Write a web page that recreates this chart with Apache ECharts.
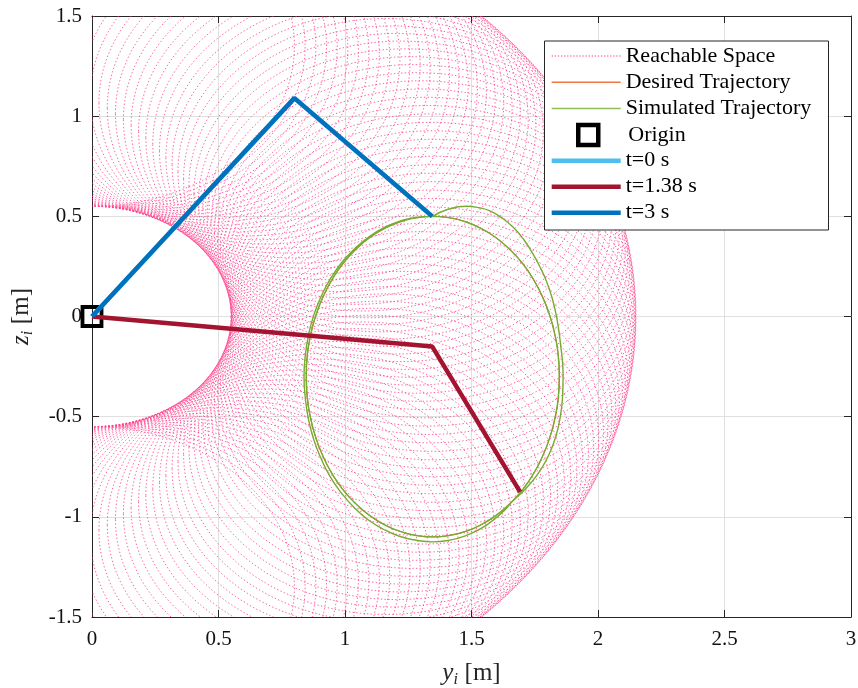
<!DOCTYPE html>
<html><head><meta charset="utf-8">
<script src="https://cdn.jsdelivr.net/npm/echarts@6/dist/echarts.min.js"></script>
<style>html,body{margin:0;padding:0;background:#fff}#c{width:858px;height:688px}</style>
</head><body><div id="c"></div>
<script>
// ---- data ----
const xTicks = [0, 0.5, 1, 1.5, 2, 2.5, 3];
const yTicks = [-1.5, -1, -0.5, 0, 0.5, 1, 1.5];
const linkLengths = [1.35, 0.8];
// shoulder angles (deg) at which the elbow circle of the reachable space is drawn
const reachAngles = [
  -90, -88.2, -86.4, -84.6, -82.8, -81, -79.2, -77.4, -75.6, -73.8,
  -72, -70.2, -68.4, -66.6, -64.8, -63, -61.2, -59.4, -57.6, -55.8,
  -54, -52.2, -50.4, -48.6, -46.8, -45, -43.2, -41.4, -39.6, -37.8,
  -36, -34.2, -32.4, -30.6, -28.8, -27, -25.2, -23.4, -21.6, -19.8,
  -18, -16.2, -14.4, -12.6, -10.8, -9, -7.2, -5.4, -3.6, -1.8,
  0, 1.8, 3.6, 5.4, 7.2, 9, 10.8, 12.6, 14.4, 16.2,
  18, 19.8, 21.6, 23.4, 25.2, 27, 28.8, 30.6, 32.4, 34.2,
  36, 37.8, 39.6, 41.4, 43.2, 45, 46.8, 48.6, 50.4, 52.2,
  54, 55.8, 57.6, 59.4, 61.2, 63, 64.8, 66.6, 68.4, 70.2,
  72, 73.8, 75.6, 77.4, 79.2, 81, 82.8, 84.6, 86.4, 88.2, 90
];
const desiredTraj = [
  [1.347, 0.500], [1.412, 0.493], [1.476, 0.473], [1.538, 0.439], [1.597, 0.393],
  [1.651, 0.335], [1.701, 0.266], [1.744, 0.187], [1.780, 0.100], [1.809, 0.006],
  [1.830, -0.093], [1.843, -0.196], [1.847, -0.300], [1.843, -0.404], [1.830, -0.507],
  [1.809, -0.606], [1.780, -0.700], [1.744, -0.787], [1.701, -0.866], [1.651, -0.935],
  [1.597, -0.993], [1.538, -1.039], [1.476, -1.073], [1.412, -1.093], [1.347, -1.100],
  [1.282, -1.093], [1.218, -1.073], [1.156, -1.039], [1.097, -0.993], [1.043, -0.935],
  [0.993, -0.866], [0.950, -0.787], [0.914, -0.700], [0.885, -0.606], [0.864, -0.507],
  [0.851, -0.404], [0.847, -0.300], [0.851, -0.196], [0.864, -0.093], [0.885, 0.006],
  [0.914, 0.100], [0.950, 0.187], [0.993, 0.266], [1.043, 0.335], [1.097, 0.393],
  [1.156, 0.439], [1.218, 0.473], [1.282, 0.493], [1.347, 0.500]
];
const simulatedTransient = [
  [1.347, 0.500], [1.402, 0.533], [1.481, 0.550], [1.530, 0.543], [1.573, 0.527],
  [1.620, 0.492], [1.665, 0.445], [1.707, 0.383], [1.744, 0.310], [1.773, 0.242],
  [1.797, 0.174], [1.817, 0.100], [1.832, 0.024], [1.844, -0.060], [1.853, -0.150],
  [1.860, -0.230], [1.862, -0.300], [1.860, -0.400], [1.851, -0.500], [1.833, -0.600],
  [1.806, -0.690], [1.773, -0.765], [1.735, -0.830], [1.698, -0.880], [1.660, -0.925],
  [1.630, -0.968], [1.597, -1.005], [1.538, -1.058], [1.476, -1.095], [1.412, -1.117],
  [1.347, -1.125], [1.282, -1.117], [1.215, -1.097], [1.152, -1.062], [1.090, -1.013],
  [1.035, -0.952], [0.985, -0.880], [0.940, -0.797], [0.905, -0.708], [0.876, -0.612],
  [0.855, -0.510], [0.843, -0.405], [0.838, -0.300], [0.843, -0.195], [0.856, -0.090],
  [0.877, 0.008], [0.907, 0.104], [0.943, 0.190], [0.988, 0.271], [1.038, 0.338],
  [1.094, 0.397], [1.152, 0.442], [1.217, 0.476], [1.280, 0.495]
];
const originPoint = [[0, 0]];
const armT0 = [[0, 0], [0.80, 1.09], [1.345, 0.50]];
const armT138 = [[0, 0], [1.345, -0.15], [1.692, -0.875]];
const armT3 = [[0, 0], [0.80, 1.09], [1.345, 0.50]];

// ---- styles ----
const FONT = 'Liberation Serif';
const INK = '#262626';
const PINK = '#FF3D8B';
const C_DES = '#D95319', C_SIM = '#77AC30', C_T0 = '#4DBEEE', C_T1 = '#A2142F', C_T3 = '#0072BD';

const chart = echarts.init(document.getElementById('c'), null, {renderer: 'canvas'});

function nameRich() {
  return {
    v: {fontFamily: FONT, fontStyle: 'italic', fontSize: 25, color: INK, lineHeight: 30, verticalAlign: 'middle'},
    s: {fontFamily: FONT, fontStyle: 'italic', fontSize: 16, color: INK, lineHeight: 30, verticalAlign: 'bottom'},
    m: {fontFamily: FONT, fontSize: 25, color: INK, lineHeight: 30, verticalAlign: 'middle'}
  };
}
const tickLabel = {color: '#111', fontFamily: FONT, fontSize: 21};
const step = xTicks[1] - xTicks[0];

let dots = '';
for (let i = 0; i < 23; i++) dots += 'M' + (i * 3) + ',0h1.3v1h-1.3z';

const legendRows = [
  {name: 'Reachable Space', icon: 'path://' + dots, h: 1.5, color: '#FF7FAF', y: 56},
  {name: 'Desired Trajectory', icon: 'rect', h: 1.5, color: '#EE7744', y: 82.3},
  {name: 'Simulated Trajectory', icon: 'rect', h: 1.5, color: '#8FBF55', y: 108.5},
  {name: 'Origin', icon: 'rect', h: 20, w: 20, color: '#000', y: 134.7, hollow: true},
  {name: 't=0 s', icon: 'rect', h: 4.5, color: C_T0, y: 160.7},
  {name: 't=1.38 s', icon: 'rect', h: 4.5, color: C_T1, y: 186.7},
  {name: 't=3 s', icon: 'rect', h: 4.5, color: C_T3, y: 212.7}
];
const legends = legendRows.map(r => ({
  show: true, selectedMode: false, orient: 'horizontal', padding: 0,
  left: r.hollow ? 576 : 551.7, top: r.y - 12,
  itemWidth: r.w || 69, itemHeight: r.h, symbolKeepAspect: false,
  textStyle: {fontFamily: FONT, fontSize: 22, color: '#000', lineHeight: 24,
    padding: r.hollow ? [0, 0, 0, 25] : 0},
  data: [{
    name: r.name, icon: r.icon,
    itemStyle: r.hollow ? {color: 'rgba(255,255,255,0)', borderColor: '#000', borderWidth: 4.5, opacity: 1}
                        : {color: r.color, borderWidth: 0, opacity: 1},
    lineStyle: {width: 0}
  }],
  z: 10
}));

const option = {
  animation: false,
  backgroundColor: '#fff',
  grid: {left: 92, right: 7, top: 16, bottom: 71, show: false, containLabel: false, outerBoundsMode: 'none'},
  legend: legends,
  graphic: [{
    type: 'rect', left: 544, top: 40.5, z: 9,
    shape: {width: 284, height: 189},
    style: {fill: '#fff', stroke: INK, lineWidth: 1}
  }],
  xAxis: [{
    type: 'value', min: xTicks[0], max: xTicks[xTicks.length - 1], interval: step, position: 'bottom',
    axisLine: {show: true, onZero: false, lineStyle: {color: INK, width: 1}},
    axisTick: {show: true, inside: true, length: 7, lineStyle: {color: INK}},
    axisLabel: Object.assign({margin: 12}, tickLabel),
    splitLine: {show: true, lineStyle: {color: '#E0E0E0', width: 1}},
    name: '{v|y}{s|i}  {m|[m]}', nameLocation: 'middle', nameGap: 41,
    nameTextStyle: {rich: nameRich()}
  }, {
    type: 'value', min: xTicks[0], max: xTicks[xTicks.length - 1], interval: step, position: 'top',
    axisLine: {show: true, onZero: false, lineStyle: {color: INK, width: 1}},
    axisTick: {show: true, inside: true, length: 7, lineStyle: {color: INK}},
    axisLabel: {show: false}, splitLine: {show: false}
  }],
  yAxis: [{
    type: 'value', min: yTicks[0], max: yTicks[yTicks.length - 1], interval: yTicks[1] - yTicks[0], position: 'left',
    axisLine: {show: true, onZero: false, lineStyle: {color: INK, width: 1}},
    axisTick: {show: true, inside: true, length: 7, lineStyle: {color: INK}},
    axisLabel: Object.assign({margin: 10}, tickLabel),
    splitLine: {show: true, lineStyle: {color: '#E0E0E0', width: 1}},
    name: '{v|z}{s|i}  {m|[m]}', nameLocation: 'middle', nameGap: 56, nameRotate: 90,
    nameTextStyle: {rich: nameRich()}
  }, {
    type: 'value', min: yTicks[0], max: yTicks[yTicks.length - 1], interval: yTicks[1] - yTicks[0], position: 'right',
    axisLine: {show: true, onZero: false, lineStyle: {color: INK, width: 1}},
    axisTick: {show: true, inside: true, length: 7, lineStyle: {color: INK}},
    axisLabel: {show: false}, splitLine: {show: false}
  }],
  series: [
    {
      name: 'Reachable Space', type: 'custom', silent: true,
      data: reachAngles.map(a => [0, 0, a]),
      renderItem: function (params, api) {
        const a = api.value(2) * Math.PI / 180;
        const c = api.coord([linkLengths[0] * Math.cos(a), linkLengths[0] * Math.sin(a)]);
        const s = api.size([linkLengths[1], linkLengths[1]]);
        const cs = params.coordSys;
        return {
          type: 'group',
          clipPath: {type: 'rect', shape: {x: cs.x, y: cs.y, width: cs.width, height: cs.height}},
          children: [{
            type: 'ellipse', silent: true,
            shape: {cx: c[0], cy: c[1], rx: s[0], ry: s[1]},
            style: {fill: 'none', stroke: PINK, lineWidth: 1, lineDash: [1.4, 2.2], opacity: 0.8}
          }]
        };
      },
      itemStyle: {color: PINK}
    },
    {name: 'Desired Trajectory', type: 'line', data: desiredTraj, smooth: true, showSymbol: false, symbol: 'none',
      lineStyle: {color: C_DES, width: 1.0}, itemStyle: {color: C_DES}},
    {name: 'Simulated Trajectory', type: 'line', data: simulatedTransient.concat(desiredTraj), smooth: true, showSymbol: false, symbol: 'none',
      lineStyle: {color: C_SIM, width: 1.4}, itemStyle: {color: C_SIM}},
    {name: 'Origin', type: 'scatter', data: originPoint, symbol: 'rect', symbolSize: 19,
      itemStyle: {color: 'rgba(255,255,255,0)', borderColor: '#000', borderWidth: 3.8, opacity: 1}},
    {name: 't=0 s', type: 'line', data: armT0, showSymbol: false, symbol: 'none', lineStyle: {color: C_T0, width: 4.5}, itemStyle: {color: C_T0}},
    {name: 't=1.38 s', type: 'line', data: armT138, showSymbol: false, symbol: 'none', lineStyle: {color: C_T1, width: 4.5}, itemStyle: {color: C_T1}},
    {name: 't=3 s', type: 'line', data: armT3, showSymbol: false, symbol: 'none', lineStyle: {color: C_T3, width: 4.5}, itemStyle: {color: C_T3}}
  ]
};
chart.setOption(option);
</script>
</body></html>
